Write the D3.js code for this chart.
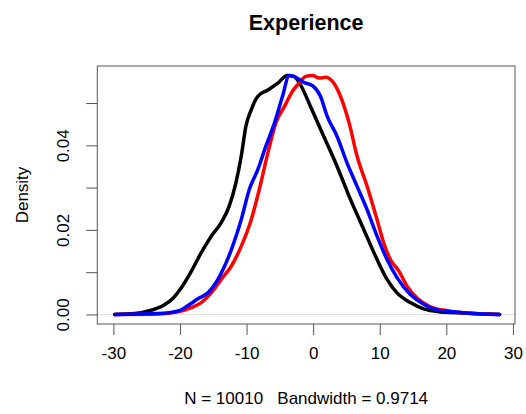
<!DOCTYPE html>
<html>
<head>
<meta charset="utf-8">
<script src="https://cdn.jsdelivr.net/npm/d3@7"></script>
<style>
  body { margin: 0; background: #fff; }
  text { font-family: "Liberation Sans", Arial, sans-serif; fill: #000; white-space: pre; }
</style>
</head>
<body>
<div id="chart"></div>
<script>
var svgWidth = 526;
var svgHeight = 414;

// plot region (R style box)
var plotLeft = 97.3, plotRight = 515, plotTop = 66, plotBottom = 324;

// density curves: x value, density
var blackX = [-29.8, -26.8, -24.3, -22.5, -21.0, -19.8, -18.3, -16.8, -15.3, -13.8, -12.6, -11.6, -10.8, -10.1, -9.3, -8.3, -6.8, -5.3, -3.9, -2.9, -1.9, -0.4, 1.6, 3.6, 5.6, 7.6, 9.6, 11.1, 12.6, 14.6, 16.6, 19.1, 21.5, 24.0, 28.0];
var blackY = [0, 0.0002, 0.001, 0.0021, 0.0039, 0.0063, 0.0102, 0.0146, 0.0185, 0.0217, 0.0256, 0.0311, 0.0374, 0.0445, 0.0484, 0.0516, 0.0531, 0.0547, 0.0565, 0.0563, 0.0543, 0.0492, 0.0421, 0.035, 0.0272, 0.0201, 0.013, 0.0083, 0.0051, 0.0028, 0.0013, 0.0006, 0.0004, 0.0002, 0];

var blueX = [-29.8, -23.3, -20.3, -18.8, -17.3, -15.8, -14.6, -13.3, -12.1, -10.8, -9.6, -8.3, -7.1, -5.8, -4.6, -3.6, -2.9, -1.4, -0.1, 1.1, 2.1, 3.6, 5.1, 6.6, 8.1, 9.6, 11.1, 12.6, 14.6, 16.6, 19.1, 21.5, 24.0, 28.0];
var blueY = [0, 0.0002, 0.0008, 0.0021, 0.0037, 0.0051, 0.0075, 0.0114, 0.0161, 0.0224, 0.0295, 0.0343, 0.0398, 0.0453, 0.0516, 0.0565, 0.0563, 0.0549, 0.0541, 0.0516, 0.0469, 0.0421, 0.0358, 0.0303, 0.0248, 0.0185, 0.013, 0.0087, 0.0047, 0.0024, 0.0009, 0.0006, 0.0002, 0];

var redX = [-29.8, -23.3, -20.3, -18.3, -16.8, -15.3, -13.8, -12.3, -10.8, -9.3, -8.1, -6.8, -5.6, -4.3, -3.1, -2.1, -1.1, -0.1, 0.9, 1.9, 2.9, 4.1, 5.4, 6.6, 8.1, 9.6, 10.6, 11.6, 12.9, 14.1, 15.6, 17.6, 20.1, 22.5, 28.0];
var redY = [0, 0.0001, 0.0006, 0.0016, 0.0028, 0.0051, 0.0083, 0.0114, 0.0161, 0.0224, 0.0295, 0.0382, 0.0453, 0.0492, 0.0528, 0.0547, 0.0563, 0.0565, 0.0559, 0.0561, 0.0551, 0.0516, 0.0453, 0.0374, 0.0303, 0.0224, 0.0169, 0.013, 0.0102, 0.0067, 0.0039, 0.0018, 0.0009, 0.0004, 0];

var xTicks = [-30, -20, -10, 0, 10, 20, 30];
var yTicks = [0, 0.01, 0.02, 0.03, 0.04, 0.05];
var yLabels = [0, 0.02, 0.04];

var titleText = "Experience";
var xLabel = "N = 10010   Bandwidth = 0.9714";
var yLabel = "Density";

var series = [
    {xs: blackX, ys: blackY, color: 'black'},
    {xs: blueX, ys: blueY, color: 'blue'},
    {xs: redX, ys: redY, color: 'red'}
];

// R pads the data range by 4% on each side
var xmin = d3.min(blackX), xmax = d3.max(blackX);
var ymax = d3.max(blackY);
var x = d3.scaleLinear()
    .domain([xmin - 0.04 * (xmax - xmin) - 0.3, xmax + 0.04 * (xmax - xmin)])
    .range([plotLeft, plotRight]);
var y = d3.scaleLinear()
    .domain([-0.04 * ymax, ymax * 1.04])
    .range([plotBottom, plotTop]);

var svg = d3.select('#chart').append('svg')
    .attr('width', svgWidth)
    .attr('height', svgHeight);

// zero line
svg.append('line')
    .attr('x1', plotLeft).attr('x2', plotRight)
    .attr('y1', y(0)).attr('y2', y(0))
    .attr('stroke', '#e0e0e0')
    .attr('stroke-width', 1);

var line = d3.line()
    .x(d => x(d[0]))
    .y(d => y(d[1]))
    .curve(d3.curveMonotoneX);

// black first, then red, blue on top
[series[0], series[2], series[1]].forEach(function(s) {
    svg.append('path')
        .datum(s.xs.map((v, i) => [v, s.ys[i]]))
        .attr('fill', 'none')
        .attr('stroke', s.color)
        .attr('stroke-width', 3.5)
        .attr('stroke-linejoin', 'round')
        .attr('stroke-linecap', 'round')
        .attr('d', line);
});

// box
svg.append('rect')
    .attr('x', plotLeft).attr('y', plotTop)
    .attr('width', plotRight - plotLeft).attr('height', plotBottom - plotTop)
    .attr('fill', 'none')
    .attr('stroke', '#555')
    .attr('stroke-width', 1);

// x axis
var xAxis = svg.append('g')
    .attr('transform', `translate(0, ${plotBottom})`)
    .call(d3.axisBottom(x).tickValues(xTicks).tickSize(11).tickPadding(12)
        .tickFormat(d => String(d)));
xAxis.select('.domain').remove();
xAxis.selectAll('.tick line').attr('stroke', '#555');
xAxis.selectAll('text')
    .style('font-size', '17px')
    .attr('fill', '#000');

// y axis
var yAxis = svg.append('g')
    .attr('transform', `translate(${plotLeft}, 0)`)
    .call(d3.axisLeft(y).tickValues(yTicks).tickSize(11)
        .tickFormat(d => yLabels.some(v => Math.abs(v - d) < 1e-9) ? d.toFixed(2) : ''));
yAxis.select('.domain').remove();
yAxis.selectAll('.tick line').attr('stroke', '#555');
yAxis.selectAll('text')
    .style('font-size', '17px')
    .attr('fill', '#000')
    .attr('x', null).attr('dy', '0.35em')
    .attr('text-anchor', 'middle')
    .attr('transform', 'translate(-34, 0) rotate(-90)');

// title and labels
svg.append('text')
    .attr('x', (plotLeft + plotRight) / 2)
    .attr('y', 30)
    .attr('text-anchor', 'middle')
    .style('font-size', '21.5px')
    .style('font-weight', 'bold')
    .text(titleText);

svg.append('text')
    .attr('x', (plotLeft + plotRight) / 2)
    .attr('y', 404)
    .attr('text-anchor', 'middle')
    .style('font-size', '17px')
    .text(xLabel);

svg.append('text')
    .attr('transform', `translate(28, ${(plotTop + plotBottom) / 2}) rotate(-90)`)
    .attr('text-anchor', 'middle')
    .style('font-size', '17px')
    .text(yLabel);
</script>
</body>
</html>
